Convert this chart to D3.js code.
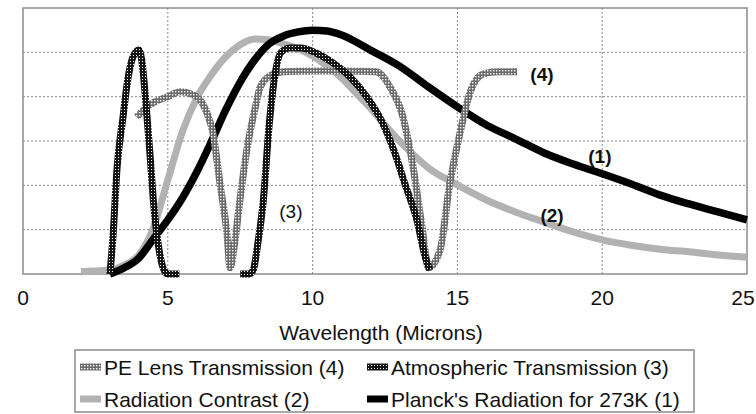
<!DOCTYPE html>
<html>
<head>
<meta charset="utf-8">
<script src="https://cdn.jsdelivr.net/npm/d3@7"></script>
<style>
  body { margin: 0; background: #fff; }
  svg { display: block; font-family: "Liberation Sans", Arial, sans-serif; }
</style>
</head>
<body>
<svg id="chart" width="756" height="414"></svg>
<script>
// values (wavelength in microns, relative level 0..6)
const planckX = [3, 3.5, 4, 4.5, 5, 5.5, 6, 6.5, 7, 7.5, 8, 8.5, 9, 9.5, 10, 10.5, 11, 12, 13, 14, 15, 16, 17, 18, 19, 20, 21, 22, 23, 24, 25]
const planckY = [0, 0.14, 0.36, 0.79, 1.22, 1.71, 2.30, 2.98, 3.70, 4.33, 4.83, 5.19, 5.37, 5.46, 5.50, 5.48, 5.39, 5.05, 4.69, 4.22, 3.77, 3.36, 3.05, 2.73, 2.48, 2.26, 2.03, 1.78, 1.58, 1.40, 1.22]

const contrastX = [2, 2.5, 3, 3.5, 4, 4.5, 5, 5.5, 6, 6.5, 7, 7.5, 8, 8.5, 9, 9.5, 10, 10.5, 11, 11.5, 12, 12.5, 13, 13.5, 14, 15, 16, 17, 18, 19, 20, 21, 22, 23, 24, 25]
const contrastY = [0.05, 0.07, 0.09, 0.20, 0.43, 1.04, 2.12, 3.20, 3.97, 4.49, 4.90, 5.17, 5.30, 5.28, 5.19, 5.08, 4.92, 4.69, 4.42, 4.08, 3.74, 3.36, 3.00, 2.68, 2.39, 2.01, 1.67, 1.40, 1.17, 0.95, 0.77, 0.65, 0.56, 0.50, 0.43, 0.38]

// null = no transmission plotted between the two windows
const atmosX = [3.0, 3.1, 3.25, 3.45, 3.6, 3.8, 4.0, 4.1, 4.25, 4.4, 4.5, 4.7, 4.9, 5.0, 5.4, 6.5, 7.5, 7.8, 7.95, 8.1, 8.3, 8.5, 8.7, 8.9, 9.2, 9.6, 10.1, 10.7, 11.3, 11.9, 12.4, 12.8, 13.2, 13.6, 13.9, 14.05]
const atmosY = [0, 0.77, 2.41, 3.52, 4.31, 4.90, 5.05, 4.83, 3.81, 2.57, 1.67, 0.54, 0.05, 0, 0, null, 0, 0, 0.09, 0.65, 1.67, 3.36, 4.49, 4.99, 5.10, 5.10, 4.99, 4.76, 4.44, 3.97, 3.43, 2.80, 2.01, 1.22, 0.36, 0.09]

const lensX = [3.93, 4.28, 4.6, 4.97, 5.42, 5.8, 6.11, 6.35, 6.56, 6.8, 7.04, 7.15, 7.3, 7.49, 7.73, 8.08, 8.18, 8.53, 8.98, 10, 11, 12.2, 12.67, 13.12, 13.47, 13.81, 14.0, 14.4, 14.74, 15.09, 15.43, 15.88, 16.4, 17.06]
const lensY = [3.54, 3.77, 3.90, 3.99, 4.11, 4.06, 3.93, 3.63, 3.18, 2.05, 0.92, 0.14, 0.65, 1.67, 2.80, 3.93, 4.20, 4.47, 4.56, 4.58, 4.58, 4.56, 4.22, 3.54, 2.41, 0.92, 0.14, 0.54, 2.05, 3.18, 4.08, 4.51, 4.56, 4.56]

const xTicks = [0, 5, 10, 15, 20, 25]
const yGrid = [1, 2, 3, 4, 5]

const noteText = ["(4)", "(1)", "(2)", "(3)"]
const noteX = [17.92, 19.92, 18.27, 9.25]
const noteY = [4.51, 2.66, 1.33, 1.40]

const legendNames = ["PE Lens Transmission (4)", "Atmospheric Transmission (3)", "Radiation Contrast (2)", "Planck's Radiation for 273K (1)"]

const svg = d3.select("#chart")

const x = d3.scaleLinear([0, 25], [23, 747])
const y = d3.scaleLinear([0, 6], [274, 8])

// hatched strokes
const defs = svg.append("defs")
const atmosPat = defs.append("pattern")
  .attr("id", "hatchDark")
  .attr("patternUnits", "userSpaceOnUse")
  .attr("width", 3).attr("height", 3)
atmosPat.append("rect").attr("width", 3).attr("height", 3).attr("fill", "#151515")
atmosPat.append("rect").attr("x", 1).attr("y", 1).attr("width", 1).attr("height", 1).attr("fill", "#fff")

const lensPat = defs.append("pattern")
  .attr("id", "hatchGray")
  .attr("patternUnits", "userSpaceOnUse")
  .attr("width", 3).attr("height", 3)
lensPat.append("rect").attr("width", 3).attr("height", 3).attr("fill", "#6a6a6a")
lensPat.append("rect").attr("x", 1).attr("y", 1).attr("width", 1.4).attr("height", 1.4).attr("fill", "#fff")

// grid
svg.append("g")
  .selectAll("line")
  .data(yGrid)
  .join("line")
  .attr("x1", x(0)).attr("x2", x(25))
  .attr("y1", d => y(d)).attr("y2", d => y(d))
  .attr("stroke", "#8a8a8a")
  .attr("stroke-width", 1)
  .attr("stroke-dasharray", "2,2")

svg.append("g")
  .selectAll("line")
  .data(xTicks.slice(1, -1))
  .join("line")
  .attr("x1", d => x(d)).attr("x2", d => x(d))
  .attr("y1", y(0)).attr("y2", y(6))
  .attr("stroke", "#8a8a8a")
  .attr("stroke-width", 1)
  .attr("stroke-dasharray", "2,2")

// frame
svg.append("rect")
  .attr("x", x(0)).attr("y", y(6))
  .attr("width", x(25) - x(0)).attr("height", y(0) - y(6))
  .attr("fill", "none")
  .attr("stroke", "#8c8c8c")
  .attr("stroke-width", 1.5)

const line = d3.line()
  .defined(d => d[1] !== null)
  .x(d => x(d[0]))
  .y(d => y(d[1]))
  .curve(d3.curveMonotoneX)

const zip = (a, b) => a.map((v, i) => [v, b[i]])

const series = [
  { pts: zip(contrastX, contrastY), stroke: "#b2b2b2", w: 7 },
  { pts: zip(planckX, planckY), stroke: "#000", w: 7.5 },
  { pts: zip(lensX, lensY), stroke: "url(#hatchGray)", w: 7 },
  { pts: zip(atmosX, atmosY), stroke: "url(#hatchDark)", w: 7 }
]

svg.append("g")
  .selectAll("path")
  .data(series)
  .join("path")
  .attr("d", d => line(d.pts))
  .attr("fill", "none")
  .attr("stroke", d => d.stroke)
  .attr("stroke-width", d => d.w)
  .attr("stroke-linejoin", "round")

// notes in plot
svg.append("g")
  .selectAll("text")
  .data(noteText)
  .join("text")
  .attr("x", (d, i) => x(noteX[i]))
  .attr("y", (d, i) => y(noteY[i]))
  .attr("text-anchor", "middle")
  .attr("dominant-baseline", "central")
  .style("font-size", "19px")
  .style("font-weight", (d, i) => i === 3 ? 400 : 700)
  .style("fill", "#111")
  .text(d => d)

// x tick labels (last one pulled in so it stays on the page)
svg.append("g")
  .selectAll("text")
  .data(xTicks)
  .join("text")
  .attr("x", d => Math.min(x(d), 743))
  .attr("y", 305)
  .attr("text-anchor", "middle")
  .style("font-size", "21px")
  .style("fill", "#111")
  .text(d => d)

svg.append("text")
  .attr("x", 381)
  .attr("y", 340)
  .attr("text-anchor", "middle")
  .style("font-size", "21px")
  .style("fill", "#111")
  .text("Wavelength (Microns)")

// legend
const legend = svg.append("g")
legend.append("rect")
  .attr("x", 75).attr("y", 350)
  .attr("width", 619).attr("height", 62)
  .attr("fill", "#fff")
  .attr("stroke", "#8c8c8c")
  .attr("stroke-width", 1.5)

const legendStroke = ["url(#hatchGray)", "url(#hatchDark)", "#b2b2b2", "#000"]
const colX = [80, 367]
const rowY = [367, 399]

const item = legend.selectAll("g.item")
  .data(legendNames)
  .join("g")
  .attr("class", "item")
  .attr("transform", (d, i) => `translate(${colX[i % 2]},${rowY[Math.floor(i / 2)]})`)

item.append("line")
  .attr("x1", 0).attr("x2", 21)
  .attr("y1", 0).attr("y2", 0)
  .attr("stroke", (d, i) => legendStroke[i])
  .attr("stroke-width", 7)

item.append("text")
  .attr("x", 24)
  .attr("y", 8)
  .style("font-size", "21px")
  .style("fill", "#111")
  .text(d => d)
</script>
</body>
</html>
